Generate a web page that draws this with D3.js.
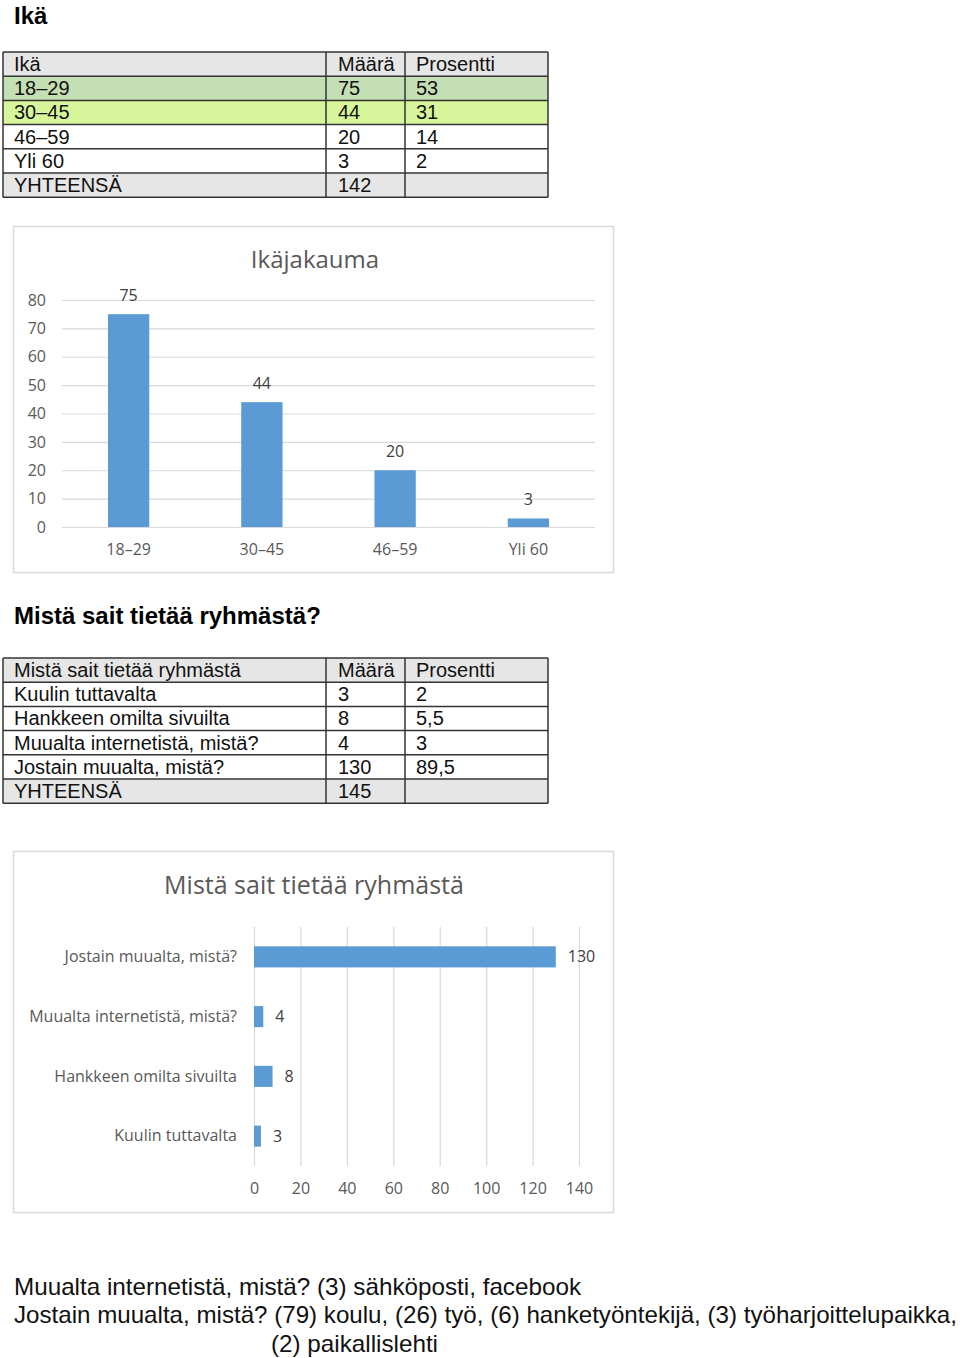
<!DOCTYPE html>
<html>
<head>
<meta charset="utf-8">
<script src="https://cdn.jsdelivr.net/npm/d3@7"></script>
<style>
  html, body { margin: 0; padding: 0; background: #fff; }
  svg { display: block; }
</style>
</head>
<body>
<svg id="page" width="960" height="1358"></svg>
<script>
// age data
const ageHeader = ["Ikä", "Määrä", "Prosentti"];
const ageCategories = ["18–29", "30–45", "46–59", "Yli 60"];
const ageCounts = [75, 44, 20, 3];
const agePercents = ["53", "31", "14", "2"];
const ageTotal = 142;
const ageTicks = [0, 10, 20, 30, 40, 50, 60, 70, 80];

// source data
const sourceHeader = ["Mistä sait tietää ryhmästä", "Määrä", "Prosentti"];
const sourceCategories = ["Kuulin tuttavalta", "Hankkeen omilta sivuilta", "Muualta internetistä, mistä?", "Jostain muualta, mistä?"];
const sourceCounts = [3, 8, 4, 130];
const sourcePercents = ["2", "5,5", "3", "89,5"];
const sourceTotal = 145;
const sourceTicks = [0, 20, 40, 60, 80, 100, 120, 140];

const notes = [
  "Muualta internetistä, mistä? (3) sähköposti, facebook",
  "Jostain muualta, mistä? (79) koulu, (26) työ, (6) hanketyöntekijä, (3) työharjoittelupaikka,",
  "(2) paikallislehti"
];

const svg = d3.select("#page");
const docFont = "'Liberation Sans', Arial, sans-serif";
const chartFont = "'Open Sans', 'Noto Sans', sans-serif";
const blue = "#5b9bd5";
const grid = "#d9d9d9";
const axisText = "#595959";

// headings
svg.append("text").attr("x", 14).attr("y", 24)
  .attr("font-family", docFont).attr("font-weight", "bold").attr("font-size", "24px")
  .text("Ikä");
svg.append("text").attr("x", 14).attr("y", 624)
  .attr("font-family", docFont).attr("font-weight", "bold").attr("font-size", "24px")
  .text("Mistä sait tietää ryhmästä?");

function drawTable(top, header, cats, counts, pcts, total, fills) {
  const rows = [header].concat(cats.map((c, i) => [c, String(counts[i]), pcts[i]]), [["YHTEENSÄ", String(total), ""]]);
  const rowH = 24.2;
  const colX = [3, 326, 405, 548];
  const g = svg.append("g");
  g.selectAll("rect.row").data(rows).join("rect")
    .attr("x", colX[0]).attr("y", (d, i) => top + i * rowH)
    .attr("width", colX[3] - colX[0]).attr("height", rowH)
    .attr("fill", (d, i) => fills[i] || "#fff");
  // horizontal lines
  g.selectAll("line.h").data(d3.range(rows.length + 1)).join("line")
    .attr("x1", colX[0]).attr("x2", colX[3])
    .attr("y1", i => top + i * rowH).attr("y2", i => top + i * rowH)
    .attr("stroke", "#333").attr("stroke-width", 1.5);
  // vertical lines
  g.selectAll("line.v").data(colX).join("line")
    .attr("x1", d => d).attr("x2", d => d)
    .attr("y1", top).attr("y2", top + rows.length * rowH)
    .attr("stroke", "#333").attr("stroke-width", 1.5);
  const textX = [14, 338, 416];
  rows.forEach((r, i) => {
    r.forEach((cell, j) => {
      g.append("text")
        .attr("x", textX[j]).attr("y", top + i * rowH + 19)
        .attr("font-family", docFont).attr("font-size", "20px").attr("fill", "#111")
        .text(cell);
    });
  });
}

drawTable(52, ageHeader, ageCategories, ageCounts, agePercents, ageTotal,
  ["#e6e6e6", "#c5dfb4", "#d7f59a", "#fff", "#fff", "#e6e6e6"]);
drawTable(658, sourceHeader, sourceCategories, sourceCounts, sourcePercents, sourceTotal,
  ["#e6e6e6", "#fff", "#fff", "#fff", "#fff", "#e6e6e6"]);

// ---- chart 1: Ikäjakauma ----
{
  const g = svg.append("g");
  g.append("rect").attr("x", 13.5).attr("y", 226.5).attr("width", 600).attr("height", 346)
    .attr("fill", "#fff").attr("stroke", grid).attr("stroke-width", 1.5);
  g.append("text").attr("x", 315).attr("y", 268).attr("text-anchor", "middle")
    .attr("font-family", chartFont).attr("font-size", "24px").attr("fill", axisText)
    .text("Ikäjakauma");

  const x = d3.scaleBand().domain(ageCategories).range([62, 595]).paddingInner(0.69).paddingOuter(0.345);
  const y = d3.scaleLinear().domain([0, 80]).range([527, 300]);

  const yAxis = g.append("g").attr("transform", "translate(62,0)")
    .call(d3.axisLeft(y).tickValues(ageTicks).tickSize(-533).tickPadding(16));
  yAxis.select(".domain").remove();
  yAxis.selectAll(".tick line").attr("stroke", grid).attr("stroke-width", 1.2);
  yAxis.selectAll(".tick text").attr("font-family", chartFont).attr("font-size", "16px").attr("fill", axisText);

  const xAxis = g.append("g").attr("transform", "translate(0,527)")
    .call(d3.axisBottom(x).tickSize(0).tickPadding(17));
  xAxis.select(".domain").remove();
  xAxis.selectAll(".tick text").attr("font-family", chartFont).attr("font-size", "16px").attr("fill", axisText);

  g.selectAll("rect.bar").data(ageCounts).join("rect")
    .attr("x", (d, i) => x(ageCategories[i])).attr("width", x.bandwidth())
    .attr("y", d => y(d)).attr("height", d => y(0) - y(d))
    .attr("fill", blue);
  g.selectAll("text.val").data(ageCounts).join("text")
    .attr("x", (d, i) => x(ageCategories[i]) + x.bandwidth() / 2)
    .attr("y", d => y(d) - 13).attr("text-anchor", "middle")
    .attr("font-family", chartFont).attr("font-size", "16px").attr("fill", "#404040")
    .text(d => d);
}

// ---- chart 2: Mistä sait tietää ryhmästä ----
{
  const g = svg.append("g");
  g.append("rect").attr("x", 13.5).attr("y", 851.5).attr("width", 600).attr("height", 361)
    .attr("fill", "#fff").attr("stroke", grid).attr("stroke-width", 1.5);
  g.append("text").attr("x", 314).attr("y", 894).attr("text-anchor", "middle")
    .attr("font-family", chartFont).attr("font-size", "25px").attr("fill", axisText)
    .text("Mistä sait tietää ryhmästä");

  const x = d3.scaleLinear().domain([0, 140]).range([254, 579]);
  const y = d3.scaleBand().domain(sourceCategories.slice().reverse()).range([927, 1166])
    .paddingInner(0.647).paddingOuter(0.3235);

  const xAxis = g.append("g").attr("transform", "translate(0,1166)")
    .call(d3.axisBottom(x).tickValues(sourceTicks).tickSize(-239).tickPadding(17));
  xAxis.select(".domain").remove();
  xAxis.selectAll(".tick line").attr("stroke", grid).attr("stroke-width", 1.2);
  xAxis.selectAll(".tick text").attr("font-family", chartFont).attr("font-size", "16px").attr("fill", axisText);

  const yAxis = g.append("g").attr("transform", "translate(254,0)")
    .call(d3.axisLeft(y).tickSize(0).tickPadding(17));
  yAxis.select(".domain").remove();
  yAxis.selectAll(".tick text").attr("font-family", chartFont).attr("font-size", "16px").attr("fill", axisText);

  g.selectAll("rect.bar").data(sourceCounts).join("rect")
    .attr("x", x(0)).attr("width", d => x(d) - x(0))
    .attr("y", (d, i) => y(sourceCategories[i])).attr("height", y.bandwidth())
    .attr("fill", blue);
  g.selectAll("text.val").data(sourceCounts).join("text")
    .attr("x", d => x(d) + 12)
    .attr("y", (d, i) => y(sourceCategories[i]) + y.bandwidth() / 2)
    .attr("dy", "0.35em")
    .attr("font-family", chartFont).attr("font-size", "16px").attr("fill", "#404040")
    .text(d => d);
}

// notes below
const noteX = [14, 14, 271];
const noteY = [1295, 1323, 1352];
const noteW = [567, 943, 167];
svg.selectAll("text.note").data(notes).join("text")
  .attr("x", (d, i) => noteX[i]).attr("y", (d, i) => noteY[i])
  .attr("textLength", (d, i) => noteW[i]).attr("lengthAdjust", "spacingAndGlyphs")
  .attr("font-family", docFont).attr("font-size", "24px").attr("fill", "#111")
  .text(d => d);
</script>
</body>
</html>
